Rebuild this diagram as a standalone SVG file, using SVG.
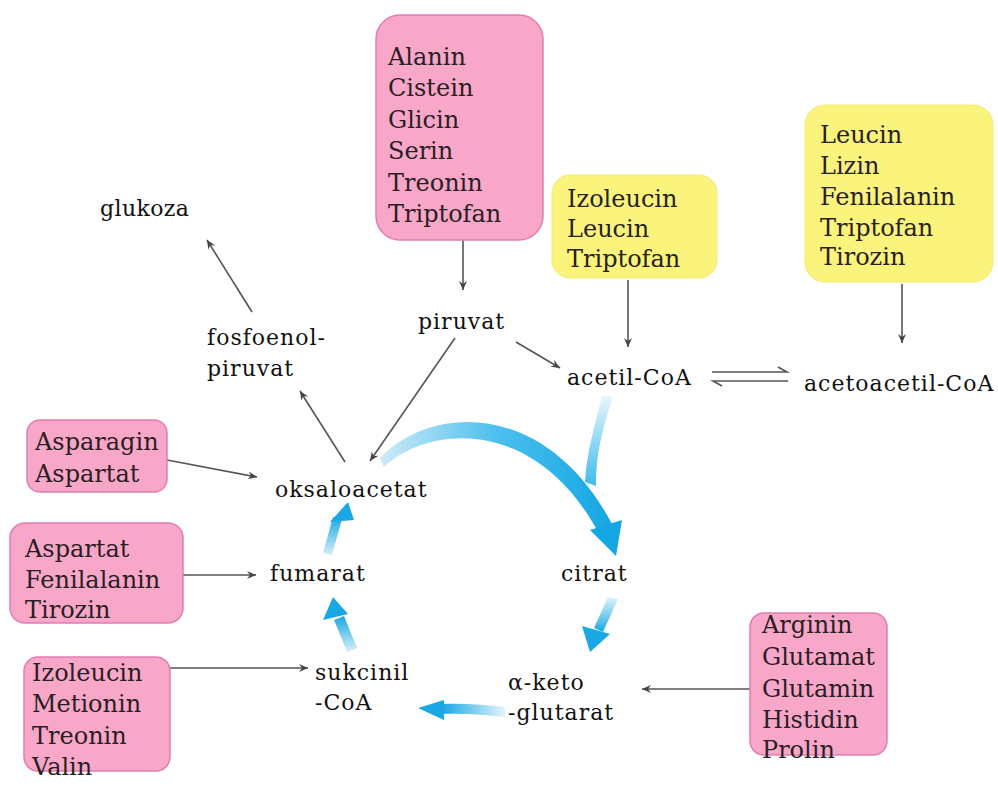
<svg xmlns="http://www.w3.org/2000/svg" width="998" height="801" viewBox="0 0 998 801">
<style>
.bt{font-family:"DejaVu Serif","Liberation Serif",serif;font-size:24px;fill:#2a1f22}
.lb{font-family:"DejaVu Serif","Liberation Serif",serif;font-size:22px;letter-spacing:1px;fill:#111}
.pink{fill:#f9a7c9;stroke:#e07fb0;stroke-width:1.5}
.yel{fill:#fbf47c;stroke:#f3ea70;stroke-width:1}
.ln{stroke:#555;stroke-width:1.6;fill:none}
</style>
<defs>
<marker id="ah" markerWidth="10" markerHeight="10" refX="9" refY="5" orient="auto" markerUnits="userSpaceOnUse">
<path d="M0,1 L9,5 L0,9 L3,5 Z" fill="#444"/>
</marker>
<linearGradient id="gR" x1="0" y1="0" x2="1" y2="0"><stop offset="0" stop-color="#cdebf8"/><stop offset="0.5" stop-color="#4cc0ee"/><stop offset="1" stop-color="#14a6e3"/></linearGradient>
<linearGradient id="gD" x1="0" y1="0" x2="0" y2="1"><stop offset="0" stop-color="#e3f4fb"/><stop offset="1" stop-color="#1aa8e4"/></linearGradient>
<linearGradient id="gJ" x1="0" y1="0" x2="0" y2="1"><stop offset="0" stop-color="#e8f6fc"/><stop offset="1" stop-color="#3fbbec"/></linearGradient>
<linearGradient id="gU" x1="0" y1="1" x2="0" y2="0"><stop offset="0" stop-color="#d6eff9"/><stop offset="1" stop-color="#1aa8e4"/></linearGradient>
<linearGradient id="gL" x1="1" y1="0" x2="0" y2="0"><stop offset="0" stop-color="#e3f4fb"/><stop offset="1" stop-color="#1aa8e4"/></linearGradient>
</defs>

<!-- blue cycle arrows -->
<g id="cycle">
<path d="M602 396 L613 396 C604 425 596 450 596 486 L585 482 C587 450 595 425 602 396 Z" fill="url(#gJ)"/>
<path d="M380 458 C430 405 545 398 612 524 L598 532 C538 420 432 422 384 467 Z" fill="url(#gR)"/>
<polygon points="590,530 622,520 616,556" fill="#14a6e3"/>
<path d="M608 597 L618 599 L603 632 L594 628 Z" fill="url(#gD)"/>
<polygon points="582,626 610,634 590,652" fill="#1aa8e4"/>
<path d="M505 707 C485 705 465 703 442 704 L442 714 C465 713 485 715 505 717 Z" fill="url(#gL)"/>
<polygon points="444,700 444,720 418,708" fill="#1aa8e4"/>
<path d="M347 652 L357 648 L344 616 L334 620 Z" fill="url(#gU)"/>
<polygon points="323,620 348,614 333,597" fill="#1aa8e4"/>
<path d="M323 553 L332 555 L342 519 L333 517 Z" fill="url(#gU)"/>
<polygon points="330,522 354,520 348,502" fill="#1aa8e4"/>
</g>

<g id="connectors">
<line class="ln" x1="463" y1="240" x2="463" y2="290" marker-end="url(#ah)"/>
<line class="ln" x1="628" y1="280" x2="628" y2="347" marker-end="url(#ah)"/>
<line class="ln" x1="902" y1="284" x2="902" y2="343" marker-end="url(#ah)"/>
<line class="ln" x1="516" y1="342" x2="560" y2="368" marker-end="url(#ah)"/>
<line class="ln" x1="455" y1="338" x2="370" y2="461" marker-end="url(#ah)"/>
<line class="ln" x1="345" y1="462" x2="300" y2="391" marker-end="url(#ah)"/>
<line class="ln" x1="252" y1="312" x2="207" y2="240" marker-end="url(#ah)"/>
<line class="ln" x1="167" y1="460" x2="257" y2="477" marker-end="url(#ah)"/>
<line class="ln" x1="183" y1="575" x2="256" y2="575" marker-end="url(#ah)"/>
<line class="ln" x1="170" y1="668" x2="308" y2="668" marker-end="url(#ah)"/>
<line class="ln" x1="750" y1="689" x2="642" y2="689" marker-end="url(#ah)"/>
<path class="ln" d="M712 372 L787 372 L778 367"/>
<path class="ln" d="M722 386 L713 381 L788 381"/>
</g>

<g id="box-top">
<rect class="pink" x="376" y="15" width="167" height="225" rx="24" stroke="#f4b9d6" stroke-width="3"/>
<text class="bt" x="388" y="65">Alanin</text>
<text class="bt" x="388" y="96">Cistein</text>
<text class="bt" x="388" y="128">Glicin</text>
<text class="bt" x="388" y="159">Serin</text>
<text class="bt" x="388" y="191">Treonin</text>
<text class="bt" x="388" y="222">Triptofan</text>
</g>

<g id="box-yellow1">
<rect class="yel" x="552" y="175" width="165" height="103" rx="18"/>
<text class="bt" x="567" y="207">Izoleucin</text>
<text class="bt" x="567" y="237">Leucin</text>
<text class="bt" x="567" y="267">Triptofan</text>
</g>

<g id="box-yellow2">
<rect class="yel" x="805" y="105" width="188" height="177" rx="20"/>
<text class="bt" x="820" y="143">Leucin</text>
<text class="bt" x="820" y="174">Lizin</text>
<text class="bt" x="820" y="205">Fenilalanin</text>
<text class="bt" x="820" y="236">Triptofan</text>
<text class="bt" x="820" y="265">Tirozin</text>
</g>

<g id="box-asparagin">
<rect class="pink" x="27" y="420" width="140" height="72" rx="13"/>
<text class="bt" x="35" y="450">Asparagin</text>
<text class="bt" x="35" y="482">Aspartat</text>
</g>

<g id="box-aspartat">
<rect class="pink" x="10" y="523" width="173" height="100" rx="15"/>
<text class="bt" x="25" y="557">Aspartat</text>
<text class="bt" x="25" y="588">Fenilalanin</text>
<text class="bt" x="25" y="618">Tirozin</text>
</g>

<g id="box-izoleucin">
<rect class="pink" x="24" y="657" width="146" height="114" rx="14"/>
<text class="bt" x="32" y="681">Izoleucin</text>
<text class="bt" x="32" y="712">Metionin</text>
<text class="bt" x="32" y="744">Treonin</text>
<text class="bt" x="32" y="775">Valin</text>
</g>

<g id="box-arginin">
<rect class="pink" x="750" y="613" width="137" height="142" rx="14"/>
<text class="bt" x="762" y="633">Arginin</text>
<text class="bt" x="762" y="665">Glutamat</text>
<text class="bt" x="762" y="697">Glutamin</text>
<text class="bt" x="762" y="728">Histidin</text>
<text class="bt" x="762" y="758">Prolin</text>
</g>

<g id="glukoza"><text class="lb" x="100" y="216" style="letter-spacing:0.4px">glukoza</text></g>
<g id="fosfoenolpiruvat"><text class="lb" x="207" y="345">fosfoenol-</text><text class="lb" x="207" y="376">piruvat</text></g>
<g id="piruvat"><text class="lb" x="418" y="329">piruvat</text></g>
<g id="acetil-coa"><text class="lb" x="567" y="385">acetil-CoA</text></g>
<g id="acetoacetil-coa"><text class="lb" x="804" y="391">acetoacetil-CoA</text></g>
<g id="oksaloacetat"><text class="lb" x="275" y="497">oksaloacetat</text></g>
<g id="citrat"><text class="lb" x="561" y="581">citrat</text></g>
<g id="fumarat"><text class="lb" x="270" y="581">fumarat</text></g>
<g id="sukcinil-coa"><text class="lb" x="315" y="680">sukcinil</text><text class="lb" x="315" y="710">-CoA</text></g>
<g id="alfa-ketoglutarat"><text class="lb" x="508" y="690">α-keto</text><text class="lb" x="508" y="720">-glutarat</text></g>
</svg>
